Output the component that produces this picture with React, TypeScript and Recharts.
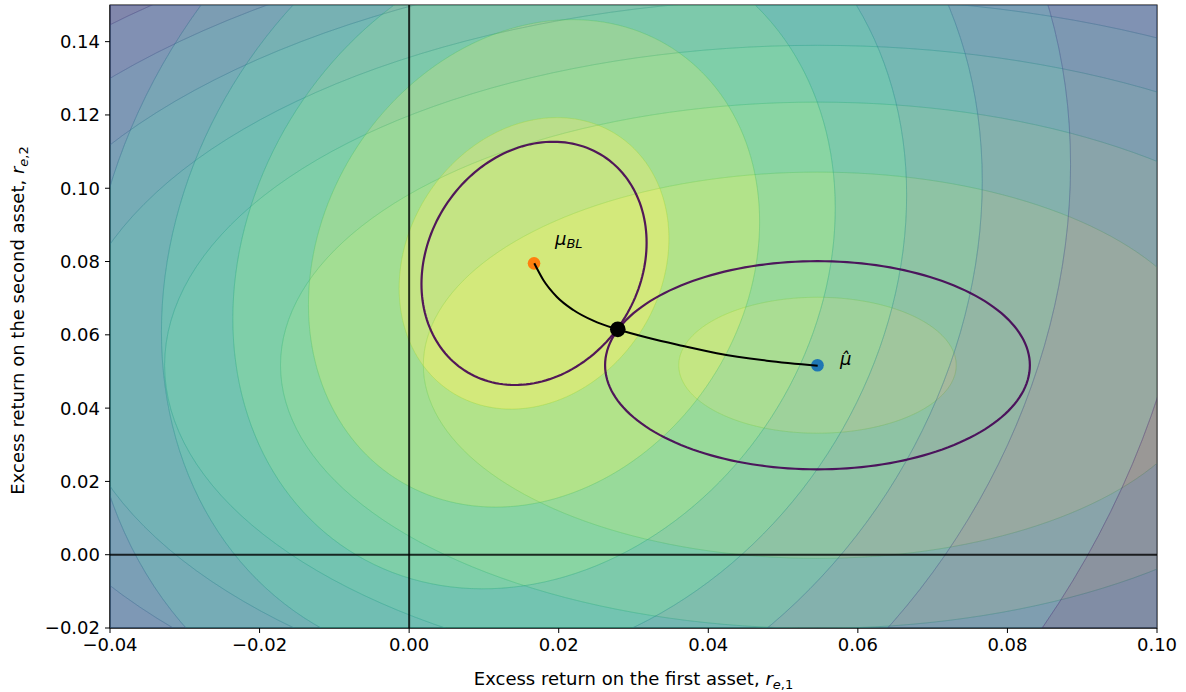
import React from "react";
import { ScatterChart, Scatter, XAxis, YAxis, ReferenceArea } from "recharts";

const W = 1186;
const H = 692;
const FONT = "DejaVu Sans, sans-serif";
const FS = 18;
const SUB = 13;

// axes
const xTicks = [-0.04, -0.02, 0, 0.02, 0.04, 0.06, 0.08, 0.1];
const yTicks = [-0.02, 0, 0.02, 0.04, 0.06, 0.08, 0.1, 0.12, 0.14];

// the three marked points
const muHat = { x: 0.0546, y: 0.0517 };
const muBL = { x: 0.0167, y: 0.0795 };
const muTilde = { x: 0.0279, y: 0.0615 };

// filled contours around mu-hat: circles, radius of each band edge (inner -> outer)
const hatRadii = [0.01855, 0.0527, 0.0718, 0.0873, 0.1002, 0.1121, 0.1228, 0.1326, 0.1418];
const hatColors = ["#d9e326", "#90d643", "#50c369", "#26ab82", "#21918c", "#2b758e", "#38598c", "#433981", "#461566"];

// filled contours around mu_BL: tilted ellipses, Mahalanobis radius of each band edge
const blShape = { sx: 0.0434, sy: 0.0957, rho: 0.17 };
const blLevels = [0.4156, 0.695, 0.928, 1.148, 1.381, 1.653, 2.051, 3.0];
const blColors = ["#d5e226", "#82d34c", "#40bc73", "#229f87", "#27818d", "#34628d", "#424085", "#471769"];

// the two single contours that touch at mu-tilde
const hatContour = 0.0284;
const blContour = 0.3468;

// black curve from mu_BL to mu-hat
const curveX = [0.01673, 0.01794, 0.01973, 0.02195, 0.02462, 0.02783, 0.0322, 0.03666, 0.04113, 0.04781, 0.05463];
const curveY = [0.07952, 0.07496, 0.0704, 0.06677, 0.06385, 0.0615, 0.05905, 0.05695, 0.05496, 0.05294, 0.05157];

// zero lines
const vZero = [{ x: 0, y: -0.02 }, { x: 0, y: 0.15 }];
const hZero = [{ x: -0.04, y: 0 }, { x: 0.1, y: 0 }];

const NPT = 180;

function ring(cx: number, cy: number, sx: number, sy: number, rho: number, m: number) {
  const pts: { x: number; y: number }[] = [];
  const k = Math.sqrt(1 - rho * rho);
  for (let i = 0; i <= NPT; i++) {
    const t = (2 * Math.PI * i) / NPT;
    pts.push({
      x: cx + m * sx * Math.cos(t),
      y: cy + m * sy * (rho * Math.cos(t) + k * Math.sin(t)),
    });
  }
  return pts;
}

function bands(cx: number, cy: number, sx: number, sy: number, rho: number, edges: number[]) {
  return edges.map((m, i) => {
    const outer = ring(cx, cy, sx, sy, rho, m);
    return i === 0 ? outer : outer.concat(ring(cx, cy, sx, sy, rho, edges[i - 1]));
  });
}

const hatBands = bands(muHat.x, muHat.y, 1, 1, 0, hatRadii);
const blBands = bands(muBL.x, muBL.y, blShape.sx, blShape.sy, blShape.rho, blLevels);
const hatLine = ring(muHat.x, muHat.y, 1, 1, 0, hatContour);
const blLine = ring(muBL.x, muBL.y, blShape.sx, blShape.sy, blShape.rho, blContour);
const curve = curveX.map((x, i) => ({ x, y: curveY[i] }));

function BandPath(props: any) {
  const pts = (props.points || []) as { x: number; y: number }[];
  const n = NPT + 1;
  const d = (arr: { x: number; y: number }[]) =>
    arr.length ? "M" + arr.map((p) => `${p.x.toFixed(2)},${p.y.toFixed(2)}`).join("L") + "Z" : "";
  const path = d(pts.slice(0, n)) + d(pts.slice(n));
  return (
    <path
      d={path}
      fill={props.color}
      fillOpacity={0.4}
      fillRule="evenodd"
      stroke={props.color}
      strokeOpacity={0.3}
      strokeWidth={0.8}
    />
  );
}

const Empty = () => <g />;

const dot = (color: string, r: number) => (p: any) => <circle cx={p.cx} cy={p.cy} r={r} fill={color} />;

const fmt = (v: number) => v.toFixed(2).replace("-", "\u2212");

function XLabel(props: any) {
  const vb = props.viewBox || { x: 110, width: 1047 };
  return (
    <text x={vb.x + vb.width / 2} y={685} textAnchor="middle" fontSize={FS} fontFamily={FONT} fill="#000">
      Excess return on the first asset, <tspan fontStyle="italic">r</tspan>
      <tspan fontSize={SUB} dy={4}>
        <tspan fontStyle="italic">e</tspan>,1
      </tspan>
    </text>
  );
}

function YLabel(props: any) {
  const vb = props.viewBox || { y: 5, height: 623 };
  const x = 24;
  const y = vb.y + vb.height / 2 + 4;
  return (
    <text x={x} y={y} transform={`rotate(-90, ${x}, ${y})`} textAnchor="middle" fontSize={FS} fontFamily={FONT} fill="#000">
      Excess return on the second asset, <tspan fontStyle="italic">r</tspan>
      <tspan fontSize={SUB} dy={4}>
        <tspan fontStyle="italic">e</tspan>,2
      </tspan>
    </text>
  );
}

const blText = (p: any) => (
  <text x={p.cx} y={p.cy} fontSize={FS} fontFamily={FONT} fill="#000" fontStyle="italic">
    μ<tspan fontSize={SUB} dy={3}>BL</tspan>
  </text>
);

const hatText = (p: any) => (
  <text x={p.cx} y={p.cy} fontSize={FS} fontFamily={FONT} fill="#000" fontStyle="italic">
    μ̂
  </text>
);

const lineStyle = (stroke: string, width: number, opacity = 1) => ({ stroke, strokeWidth: width, strokeOpacity: opacity, fill: "none" });

export default function App() {
  return (
    <div style={{ position: "absolute", left: 0, top: 0, width: W, height: H, background: "#fff" }}>
      <ScatterChart width={W} height={H} margin={{ top: 5, right: 29, bottom: 4, left: 10 }}>
        <XAxis
          type="number"
          dataKey="x"
          domain={[-0.04, 0.1]}
          ticks={xTicks}
          allowDataOverflow
          tickFormatter={fmt}
          height={60}
          tickSize={5}
          tickMargin={5}
          axisLine={{ stroke: "#000" }}
          tickLine={{ stroke: "#000" }}
          tick={{ fill: "#000", fontSize: FS, fontFamily: FONT }}
          label={<XLabel />}
        />
        <YAxis
          type="number"
          dataKey="y"
          domain={[-0.02, 0.15]}
          ticks={yTicks}
          allowDataOverflow
          tickFormatter={fmt}
          width={100}
          tickSize={5}
          tickMargin={5}
          axisLine={{ stroke: "#000" }}
          tickLine={{ stroke: "#000" }}
          tick={{ fill: "#000", fontSize: FS, fontFamily: FONT }}
          label={<YLabel />}
        />
        {hatBands.map((b, i) => (
          <Scatter key={"h" + i} data={b} line={<BandPath color={hatColors[i]} />} lineType="joint" shape={Empty} isAnimationActive={false} />
        ))}
        {blBands.map((b, i) => (
          <Scatter key={"b" + i} data={b} line={<BandPath color={blColors[i]} />} lineType="joint" shape={Empty} isAnimationActive={false} />
        ))}
        <Scatter data={vZero} line={lineStyle("#000", 2, 0.8)} lineType="joint" shape={Empty} isAnimationActive={false} />
        <Scatter data={hZero} line={lineStyle("#000", 2, 0.8)} lineType="joint" shape={Empty} isAnimationActive={false} />
        <Scatter data={blLine} line={lineStyle("#440154", 2.2, 0.9)} lineType="joint" shape={Empty} isAnimationActive={false} />
        <Scatter data={hatLine} line={lineStyle("#440154", 2.2, 0.9)} lineType="joint" shape={Empty} isAnimationActive={false} />
        <Scatter data={[muHat]} shape={dot("#1f77b4", 6.3)} isAnimationActive={false} />
        <Scatter data={[muBL]} shape={dot("#ff7f0e", 6.3)} isAnimationActive={false} />
        <Scatter data={[muTilde]} shape={dot("#000000", 7.8)} isAnimationActive={false} />
        <Scatter data={curve} line={lineStyle("#000", 2)} lineType="joint" lineJointType="monotoneX" shape={Empty} isAnimationActive={false} />
        <Scatter data={[{ x: 0.0195, y: 0.0845 }]} shape={blText} isAnimationActive={false} />
        <Scatter data={[{ x: 0.0576, y: 0.0517 }]} shape={hatText} isAnimationActive={false} />
        <ReferenceArea x1={-0.04} x2={0.1} y1={-0.02} y2={0.15} fill="none" stroke="#000" strokeWidth={1.1} />
      </ScatterChart>
    </div>
  );
}
